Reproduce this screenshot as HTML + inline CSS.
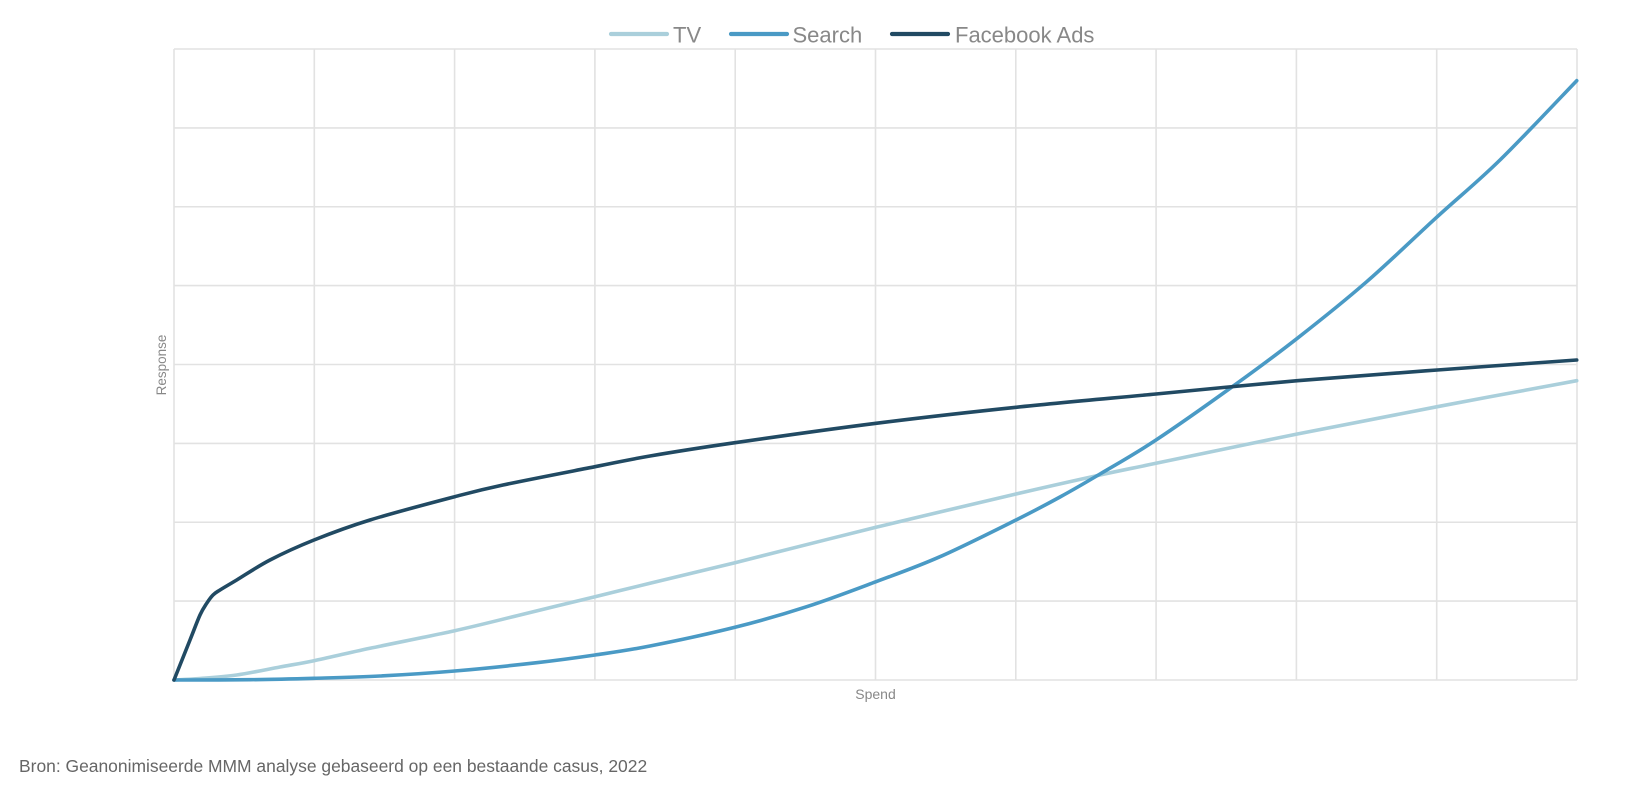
<!DOCTYPE html>
<html>
<head>
<meta charset="utf-8">
<style>
  html, body { margin:0; padding:0; background:#ffffff; }
  body { width:1644px; height:796px; overflow:hidden; }
  svg { display:block; font-family:"Liberation Sans", Arial, sans-serif; }
</style>
</head>
<body>
<svg width="1644" height="796" viewBox="0 0 1644 796" xmlns="http://www.w3.org/2000/svg">
  <rect x="0" y="0" width="1644" height="796" fill="#ffffff"/>
  <!-- grid -->
  <g stroke="#e2e2e2" stroke-width="1.6" fill="none">
    <line x1="174" y1="49" x2="1577" y2="49"/>
    <line x1="174" y1="127.9" x2="1577" y2="127.9"/>
    <line x1="174" y1="206.75" x2="1577" y2="206.75"/>
    <line x1="174" y1="285.6" x2="1577" y2="285.6"/>
    <line x1="174" y1="364.5" x2="1577" y2="364.5"/>
    <line x1="174" y1="443.4" x2="1577" y2="443.4"/>
    <line x1="174" y1="522.25" x2="1577" y2="522.25"/>
    <line x1="174" y1="601.1" x2="1577" y2="601.1"/>
    <line x1="174" y1="680" x2="1577" y2="680"/>
    <line x1="174" y1="49" x2="174" y2="680"/>
    <line x1="314.3" y1="49" x2="314.3" y2="680"/>
    <line x1="454.6" y1="49" x2="454.6" y2="680"/>
    <line x1="594.9" y1="49" x2="594.9" y2="680"/>
    <line x1="735.2" y1="49" x2="735.2" y2="680"/>
    <line x1="875.5" y1="49" x2="875.5" y2="680"/>
    <line x1="1015.8" y1="49" x2="1015.8" y2="680"/>
    <line x1="1156.1" y1="49" x2="1156.1" y2="680"/>
    <line x1="1296.4" y1="49" x2="1296.4" y2="680"/>
    <line x1="1436.7" y1="49" x2="1436.7" y2="680"/>
    <line x1="1577" y1="49" x2="1577" y2="680"/>
  </g>

  <!-- TV -->
  <path id="tv" fill="none" stroke="#aacfdb" stroke-width="3.6" stroke-linejoin="round" stroke-linecap="round"
    d="M174,680 L200,678.5 L236.7,675 L280,667 L314,660.7 L370,648.3 L454.7,630.7 L520,615 L595,596.7 L650,583.3 L735,562.7 L876,527.3 L1016,494 L1100,475 L1156,463.3 L1297.3,434 L1437.3,406.7 L1576.7,380.7"/>

  <!-- Search -->
  <path id="search" fill="none" stroke="#4a9ac5" stroke-width="3.6" stroke-linejoin="round" stroke-linecap="round"
    d="M174,680 L250,679.7 L314,678.3 L380,676 L454.7,671 L536.7,662.7 L595,655 L650,646 L735,627.3 L806.7,606.7 L876,581.7 L940,556.7 L1016,520 L1060,497 L1100,474 L1156,440 L1233.3,386 L1297.3,338.3 L1366.7,281.7 L1437.3,216.7 L1500,160 L1576.7,80.7"/>

  <!-- Facebook Ads -->
  <path id="fb" fill="none" stroke="#214a63" stroke-width="3.6" stroke-linejoin="round" stroke-linecap="round"
    d="M174,680 L190,640 L200,615 L206.7,603.3 L213,595 L220,590 L236.7,580 L270,560 L314,540 L370,520 L454.7,496.7 L503,485 L595,466.7 L650,456 L735,442.7 L876,423.3 L1016,407.3 L1156,394 L1297.3,380.7 L1437.3,370 L1576.7,360"/>

  <!-- legend -->
  <g stroke-width="4.2" stroke-linecap="round">
    <line x1="611" y1="34" x2="667" y2="34" stroke="#aacfdb"/>
    <line x1="731" y1="34" x2="787" y2="34" stroke="#4a9ac5"/>
    <line x1="892" y1="34" x2="948" y2="34" stroke="#214a63"/>
  </g>
  <g fill="#888888" font-size="22">
    <text x="673" y="42.5">TV</text>
    <text x="792.5" y="42.5">Search</text>
    <text x="955" y="42.5">Facebook Ads</text>
  </g>

  <!-- axis titles -->
  <text x="875.5" y="699" font-size="14" fill="#888888" text-anchor="middle">Spend</text>
  <text x="166" y="365" font-size="13.5" fill="#888888" text-anchor="middle" transform="rotate(-90 166 365)">Response</text>

  <!-- source -->
  <text x="19" y="772" font-size="17.45" fill="#666666">Bron: Geanonimiseerde MMM analyse gebaseerd op een bestaande casus, 2022</text>
</svg>
<script>
(function(){
  ['tv','search','fb'].forEach(function(id){
    var el=document.getElementById(id);
    if(!el) return;
    var d=el.getAttribute('d');
    var nums=d.replace(/[ML]/g,' ').trim().split(/[\s,]+/).map(Number);
    var p=[];
    for(var i=0;i<nums.length;i+=2) p.push([nums[i],nums[i+1]]);
    var n=p.length;
    var out='M'+p[0][0]+','+p[0][1];
    for(var i=0;i<n-1;i++){
      var p0=p[i>0?i-1:i], p1=p[i], p2=p[i+1], p3=p[i+2<n?i+2:i+1];
      var c1x=p1[0]+(p2[0]-p0[0])/6, c1y=p1[1]+(p2[1]-p0[1])/6;
      var c2x=p2[0]-(p3[0]-p1[0])/6, c2y=p2[1]-(p3[1]-p1[1])/6;
      out+=' C'+c1x.toFixed(2)+','+c1y.toFixed(2)+' '+c2x.toFixed(2)+','+c2y.toFixed(2)+' '+p2[0]+','+p2[1];
    }
    el.setAttribute('d',out);
  });
})();
</script>
</body>
</html>
